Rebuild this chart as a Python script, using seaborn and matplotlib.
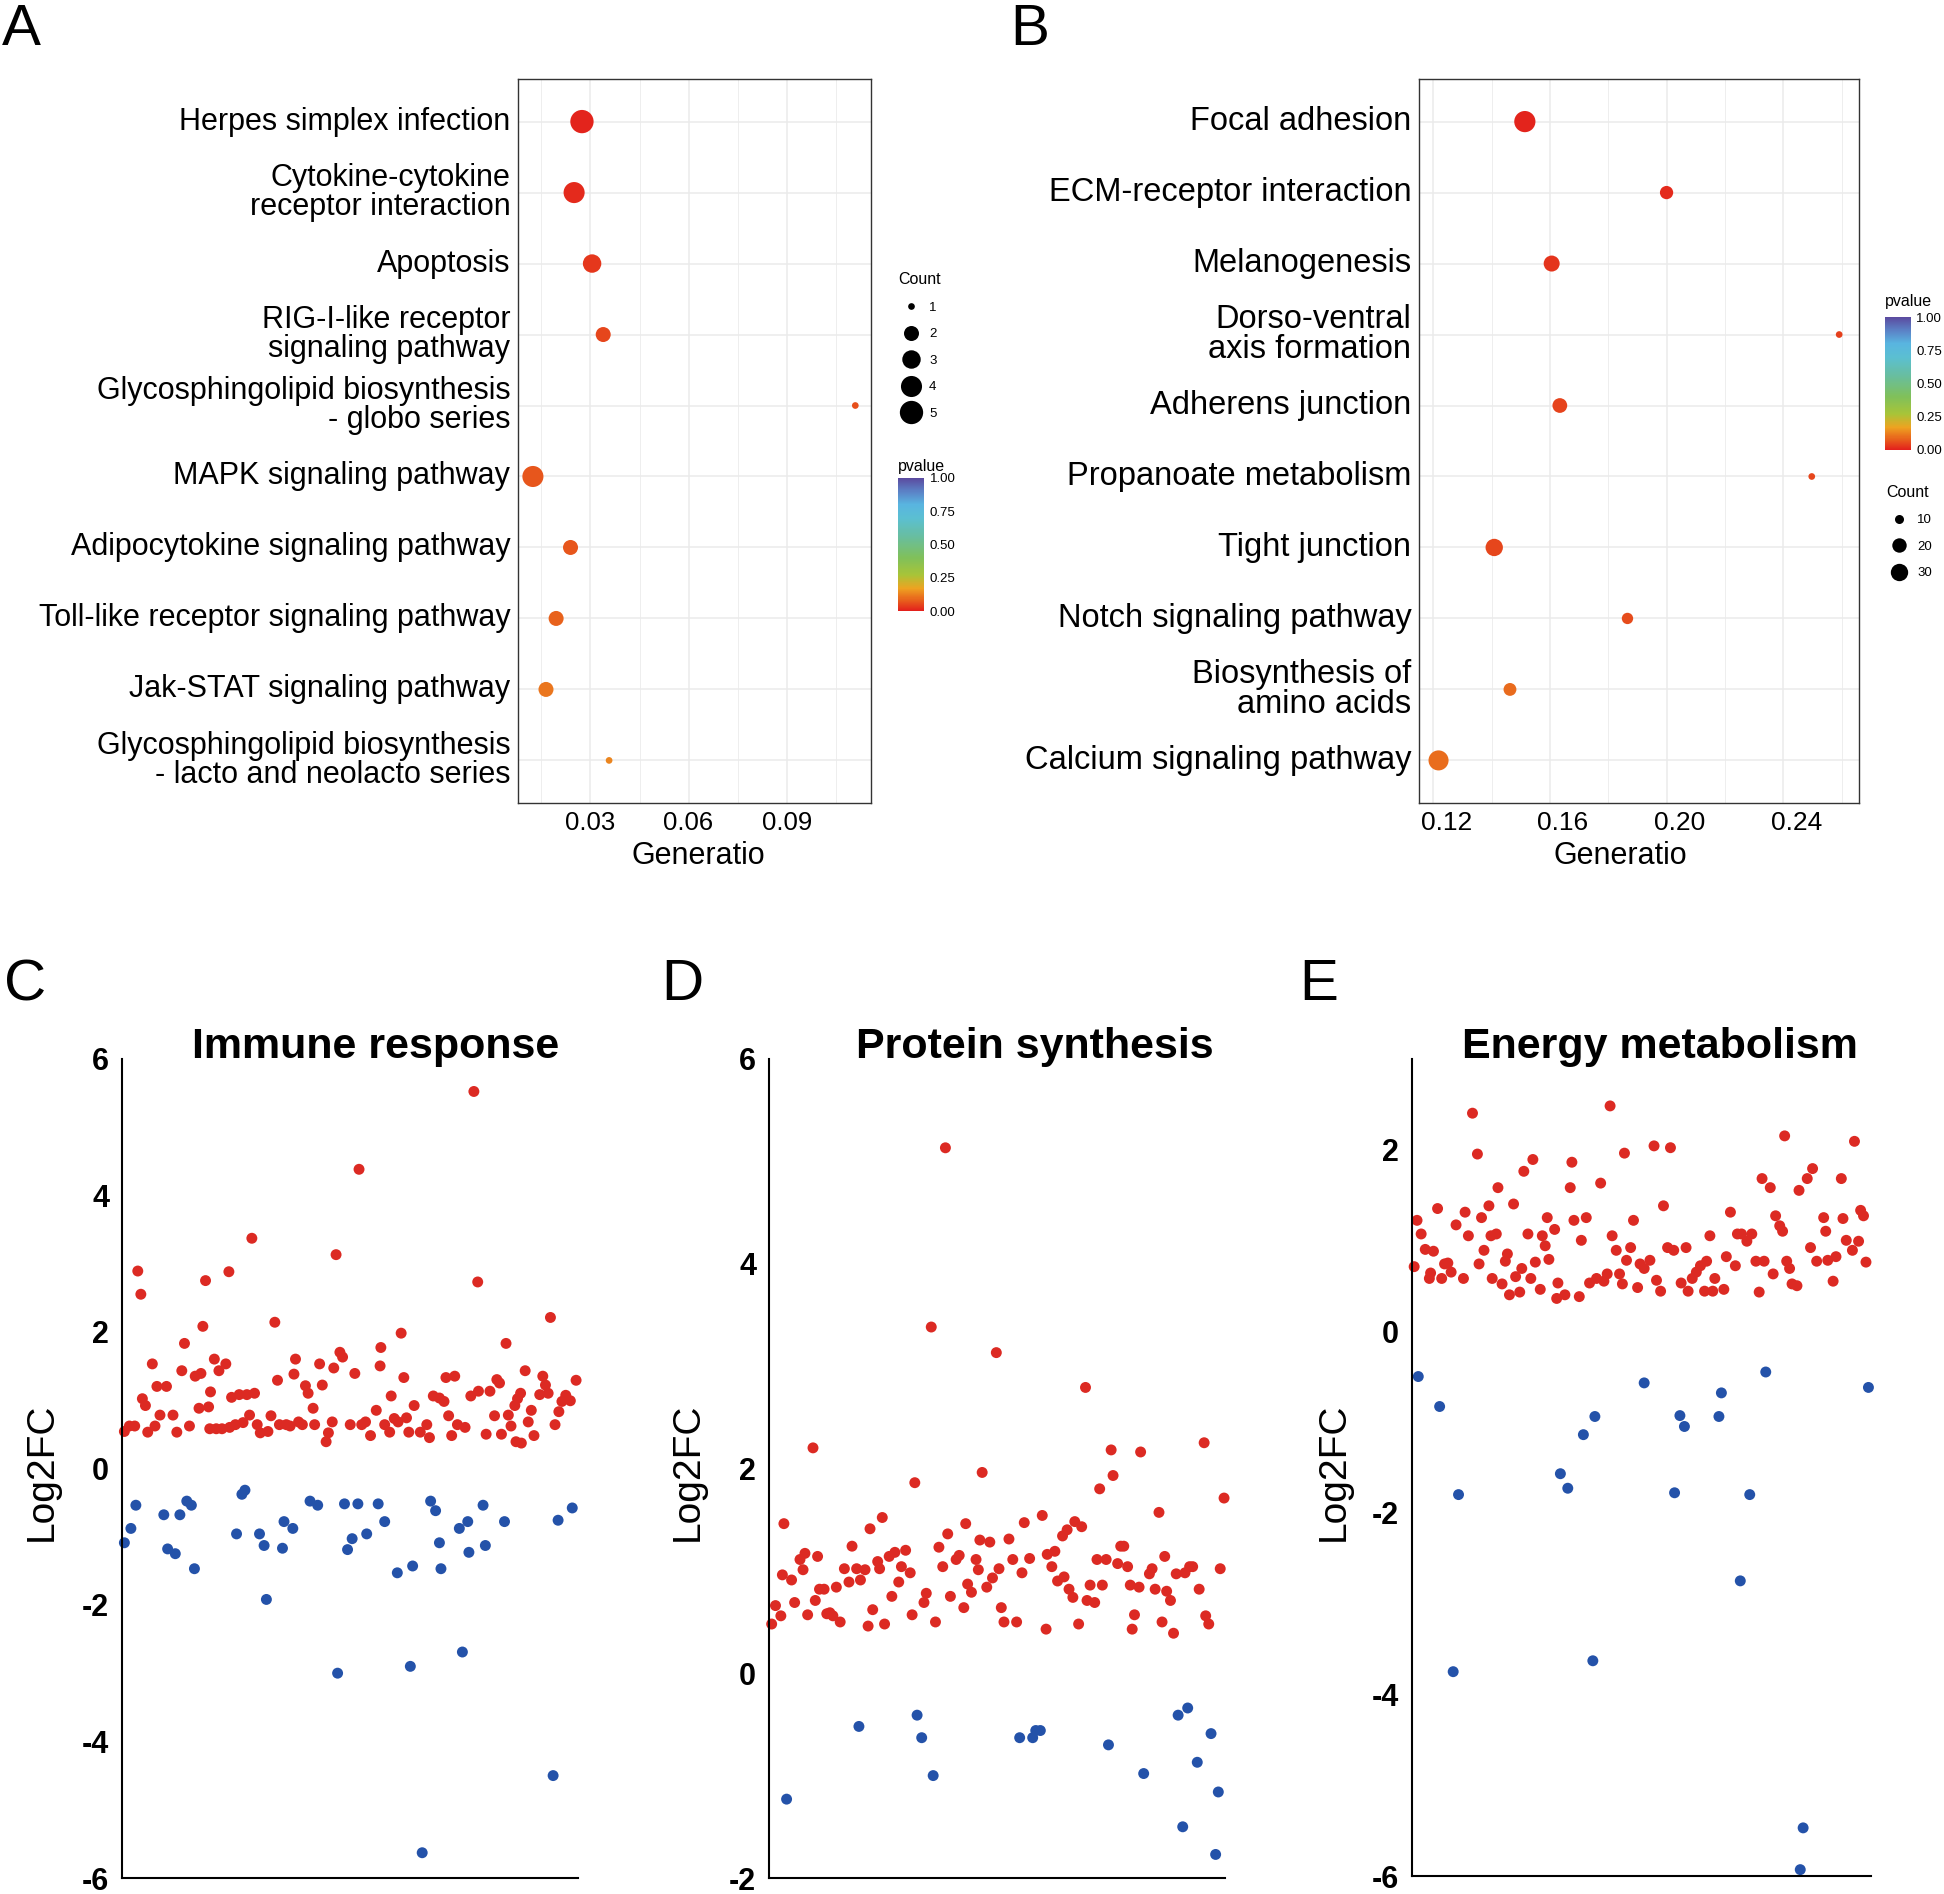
import numpy as np
import pandas as pd
import matplotlib
matplotlib.use("Agg")
import matplotlib.pyplot as plt
import seaborn as sns
from matplotlib.colors import LinearSegmentedColormap, Normalize
from matplotlib.ticker import MultipleLocator, FormatStrFormatter, NullFormatter
from matplotlib.lines import Line2D
from matplotlib.transforms import ScaledTranslation
import matplotlib.cm as cm

# ------------------------------------------------------------------ data
a_pathways = ["Herpes simplex infection",
              "Cytokine-cytokine\nreceptor interaction",
              "Apoptosis",
              "RIG-I-like receptor\nsignaling pathway",
              "Glycosphingolipid biosynthesis\n- globo series",
              "MAPK signaling pathway",
              "Adipocytokine signaling pathway",
              "Toll-like receptor signaling pathway",
              "Jak-STAT signaling pathway",
              "Glycosphingolipid biosynthesis\n- lacto and neolacto series"]
a_generatio = [0.0274, 0.0250, 0.0305, 0.0339, 0.1110, 0.0124, 0.0239, 0.0195, 0.0164, 0.0357]
a_count = [5, 4, 3, 2, 1, 4, 2, 2, 2, 1]
a_pvalue = [0.005, 0.015, 0.03, 0.05, 0.06, 0.07, 0.07, 0.085, 0.11, 0.13]

b_pathways = ["Focal adhesion",
              "ECM-receptor interaction",
              "Melanogenesis",
              "Dorso-ventral\naxis formation",
              "Adherens junction",
              "Propanoate metabolism",
              "Tight junction",
              "Notch signaling pathway",
              "Biosynthesis of\namino acids",
              "Calcium signaling pathway"]
b_generatio = [0.1514, 0.2000, 0.1606, 0.2592, 0.1634, 0.2498, 0.1409, 0.1866, 0.1463, 0.1218]
b_count = [48, 17, 25, 9, 21, 9, 30, 13, 16, 42]
b_pvalue = [0.005, 0.012, 0.025, 0.04, 0.045, 0.05, 0.05, 0.055, 0.095, 0.10]

# C: Immune response
c_up_x = [0.7, 2.0, 3.4, 4.2, 5.0, 5.4, 6.2, 6.8, 8.0, 8.7, 9.2, 10.0, 11.7, 13.4, 14.4, 15.7, 16.4,
          17.7, 19.2, 20.2, 20.7, 21.2, 21.9, 22.7, 23.2, 23.0, 24.2, 24.7, 25.4, 26.2, 27.2, 28.0,
          28.2, 28.7, 29.7, 30.7, 31.7, 32.7, 33.4, 34.0, 34.7, 35.4, 36.2, 38.2, 39.0, 40.0, 40.7,
          41.2, 43.0, 44.0, 45.0, 45.4, 46.2, 47.2, 48.0, 48.7, 50.0, 50.4, 51.7, 52.4, 53.4, 54.0,
          55.0, 55.4, 56.0, 57.0, 57.7, 59.7, 60.9, 62.0, 62.7, 63.7, 65.0, 66.5, 67.7, 67.5, 68.7,
          70.0, 70.4, 71.2, 72.2, 73.0, 73.7, 74.4, 75.0, 76.4, 78.0, 79.7, 80.4, 81.4, 83.0, 84.2,
          84.7, 85.4, 86.2, 87.0, 87.7, 89.7, 91.2, 92.0, 93.0, 93.2, 95.2, 96.2, 97.4, 98.0, 98.7,
          99.2, 100.4, 101.0, 101.7, 102.7, 103.4, 104.2, 103.0, 104.4, 105.4, 106.2, 107.0, 107.7,
          109.2, 110.0, 110.7, 112.0, 111.4, 113.2, 114.2, 115.0, 116.0, 117.2, 118.7]
c_up_y = [0.54, 0.62, 0.62, 2.89, 2.55, 1.02, 0.92, 0.53, 1.53, 0.62, 1.2, 0.78, 1.2, 0.78, 0.53, 1.43,
          1.83, 0.62, 1.35, 0.88, 1.39, 2.08, 2.75, 0.9, 1.12, 0.58, 1.6, 0.58, 1.43, 0.58, 1.53, 2.88,
          0.6, 1.04, 0.64, 1.08, 0.67, 1.08, 0.78, 3.37, 1.1, 0.64, 0.52, 0.54, 0.77, 2.14, 1.29,
          0.64, 0.64, 0.62, 1.38, 1.6, 0.68, 0.64, 1.21, 1.1, 0.88, 0.64, 1.53, 1.22, 0.39, 0.52,
          0.68, 1.47, 3.13, 1.7, 1.63, 0.64, 1.39, 4.38, 0.64, 0.68, 0.48, 0.85, 1.77, 1.5, 0.64,
          0.53, 1.06, 0.73, 0.68, 1.98, 1.33, 0.74, 0.53, 0.92, 0.53, 0.64, 0.45, 1.06, 1.03, 0.98,
          1.33, 0.77, 0.48, 1.35, 0.64, 0.6, 1.06, 5.52, 2.73, 1.13, 0.5, 1.13, 0.77, 1.3, 1.25,
          0.5, 1.83, 0.78, 0.62, 0.92, 1.02, 1.1, 0.39, 0.37, 1.43, 0.68, 0.85, 0.48,
          1.08, 1.35, 1.22, 2.21, 1.1, 0.64, 0.83, 0.98, 1.07, 0.99, 1.29]
c_down_x = [0.7, 2.4, 3.7, 11.0, 12.0, 14.0, 15.2, 17.0, 18.2, 19.0, 30.0, 31.4, 32.2, 36.0, 37.2,
            37.8, 42.0, 42.4, 44.7, 49.2, 51.2, 56.4, 58.2, 59.0, 60.2, 61.7, 64.0, 67.0, 68.7,
            72.0, 75.4, 76.0, 78.5, 80.7, 82.0, 83.0, 83.4, 88.2, 89.0, 90.4, 90.7, 94.4, 95.0,
            100.0, 112.7, 114.0, 117.7]
c_down_y = [-1.09, -0.88, -0.54, -0.68, -1.18, -1.25, -0.68, -0.48, -0.54, -1.47, -0.96, -0.38,
            -0.32, -0.96, -1.13, -1.92, -1.17, -0.78, -0.88, -0.48, -0.54, -3.0, -0.52, -1.19,
            -1.03, -0.52, -0.96, -0.52, -0.78, -1.53, -2.9, -1.43, -5.63, -0.48, -0.62, -1.09,
            -1.47, -0.88, -2.69, -0.78, -1.23, -0.54, -1.13, -0.78, -4.5, -0.76, -0.58]

# D: Protein synthesis
d_up_x = [0.8, 1.8, 3.2, 4.0, 3.6, 6.0, 6.8, 8.2, 9.0, 9.5, 10.2, 11.6, 12.2, 12.8, 13.3, 14.5, 15.2,
          16.0, 16.8, 17.7, 18.7, 19.8, 21.0, 21.8, 23.0, 24.0, 25.2, 26.0, 26.5, 27.2, 28.5, 29.0,
          29.7, 30.3, 31.5, 32.2, 33.0, 34.0, 34.7, 35.8, 37.0, 37.5, 38.2, 40.6, 41.2, 42.5, 43.6,
          44.5, 45.5, 46.2, 46.8, 47.5, 49.0, 49.8, 51.0, 51.5, 52.0, 53.0, 54.2, 54.8, 55.2, 55.8,
          57.0, 57.8, 58.5, 59.5, 60.2, 60.8, 61.5, 62.8, 63.8, 64.8, 66.2, 66.8, 68.2, 71.5, 72.5,
          72.8, 74.0, 74.8, 75.5, 76.8, 77.2, 78.0, 78.5, 79.5, 80.0, 81.0, 81.8, 82.8, 83.2, 84.0,
          85.2, 85.8, 86.5, 87.2, 88.2, 89.5, 90.0, 91.2, 92.0, 92.8, 93.8, 94.5, 95.0, 95.6, 96.8,
          97.2, 99.5, 100.2, 101.0, 102.0, 102.8, 103.5, 104.0, 105.0, 105.8, 106.5, 108.8, 110.0,
          110.8, 112.5, 113.8, 114.2, 115.0, 118.0, 119.0]
d_up_y = [0.48, 0.66, 0.56, 1.46, 0.96, 0.91, 0.69, 1.11, 1.01, 1.17, 0.57, 2.2, 0.71, 1.14, 0.82,
          0.82, 0.58, 0.59, 0.56, 0.84, 0.5, 1.02, 0.89, 1.24, 1.02, 0.91, 1.01, 0.46, 1.41, 0.62,
          1.09, 1.02, 1.52, 0.48, 1.14, 0.75, 1.18, 0.89, 1.04, 1.2, 0.98, 0.57, 1.86, 0.69, 0.78,
          3.38, 0.5, 1.23, 1.04, 5.13, 1.36, 0.75, 1.11, 1.15, 0.64, 1.46, 0.87, 0.79, 1.11, 1.01,
          1.3, 1.96, 0.84, 1.28, 0.93, 3.13, 1.02, 0.64, 0.5, 1.31, 1.11, 0.5, 0.98, 1.47, 1.12,
          1.54, 0.43, 1.16, 1.04, 1.19, 0.9, 1.34, 0.94, 1.4, 0.82, 0.74, 1.48, 0.48, 1.43, 2.79,
          0.71, 0.86, 0.69, 1.11, 1.8, 0.86, 1.11, 2.18, 1.93, 1.07, 1.24, 1.24, 1.04, 0.86, 0.43,
          0.57, 0.84, 2.16, 0.97, 1.02, 0.82, 1.57, 0.5, 1.14, 0.8, 0.71, 0.39, 0.97, 0.98, 1.04,
          1.04, 0.82, 2.25, 0.56, 0.48, 1.02, 1.71]
d_down_x = [4.7, 23.6, 38.8, 40.0, 43.0, 65.6, 69.0, 69.8, 71.0, 88.8, 98.0, 107.0, 108.2, 109.5,
            112.0, 115.6, 116.8, 117.5]
d_down_y = [-1.23, -0.52, -0.41, -0.63, -1.0, -0.63, -0.63, -0.56, -0.56, -0.7, -0.98, -0.41, -1.5,
            -0.34, -0.87, -0.59, -1.77, -1.16]

# E: Energy metabolism
e_up_x = [0.6, 1.3, 2.3, 3.3, 4.3, 4.6, 5.3, 6.3, 7.3, 8.0, 8.8, 9.6, 10.8, 12.6, 13.0, 13.8, 14.8,
          16.0, 16.4, 17.0, 17.6, 18.8, 19.3, 20.6, 21.0, 19.6, 22.0, 22.8, 23.3, 23.8, 24.8, 25.3,
          26.3, 26.8, 27.3, 28.3, 29.0, 29.5, 30.1, 31.3, 31.8, 32.5, 33.0, 33.4, 34.8, 35.3, 35.6,
          37.3, 38.6, 39.0, 39.5, 40.8, 41.3, 42.5, 43.3, 45.0, 46.0, 46.8, 47.6, 48.3, 48.8, 49.8,
          50.6, 51.3, 51.8, 52.3, 53.3, 54.0, 55.0, 55.6, 56.6, 58.0, 59.0, 59.6, 60.6, 61.3, 62.3,
          63.0, 63.8, 65.6, 66.8, 67.3, 68.3, 69.3, 70.3, 71.3, 71.8, 72.6, 73.3, 73.8, 76.0, 76.6,
          77.6, 78.8, 79.3, 80.3, 81.6, 82.8, 83.8, 84.6, 85.3, 85.8, 87.3, 88.0, 88.6, 89.6, 90.3,
          90.8, 91.3, 92.0, 92.6, 93.8, 94.3, 96.3, 97.1, 97.6, 98.6, 100.3, 100.8, 101.3, 102.6,
          103.3, 104.6, 105.0, 105.8, 107.3, 107.8, 108.8, 109.3, 110.0, 110.6]
e_up_y = [0.71, 1.22, 1.07, 0.9, 0.58, 0.64, 0.88, 1.35, 0.58, 0.74, 0.75, 0.65, 1.17, 0.58, 1.31,
          1.05, 2.4, 1.95, 0.74, 1.25, 0.89, 1.38, 1.05, 1.07, 1.58, 0.58, 0.52, 0.77, 0.85, 0.4,
          1.4, 0.6, 0.43, 0.69, 1.76, 1.07, 0.58, 1.89, 0.76, 0.46, 1.05, 0.94, 1.25, 0.79, 1.12,
          0.36, 0.53, 0.4, 1.58, 1.86, 1.22, 0.38, 1.0, 1.25, 0.53, 0.58, 1.63, 0.55, 0.63, 2.48,
          1.05, 0.89, 0.63, 0.52, 1.96, 0.78, 0.92, 1.22, 0.48, 0.74, 0.69, 0.78, 2.04, 0.56, 0.44,
          1.38, 0.92, 2.02, 0.89, 0.53, 0.92, 0.44, 0.58, 0.65, 0.72, 0.44, 0.77, 1.05, 0.44, 0.58,
          0.46, 0.82, 1.31, 0.72, 1.07, 1.07, 0.99, 1.07, 0.77, 0.43, 1.68, 0.77, 1.58, 0.63, 1.27,
          1.16, 1.1, 2.15, 0.77, 0.69, 0.52, 0.5, 1.55, 1.68, 0.92, 1.79, 0.77, 1.25, 1.1, 0.78,
          0.55, 0.82, 1.68, 1.24, 1.0, 0.89, 2.09, 0.99, 1.33, 1.27, 0.76]
e_down_x = [1.6, 6.8, 11.4, 10.1, 36.2, 38.0, 41.8, 44.6, 44.1, 56.6, 64.0, 65.3, 66.4, 74.8, 75.4,
            80.0, 82.3, 86.2, 95.3, 94.6, 111.2]
e_down_y = [-0.5, -0.83, -1.8, -3.75, -1.57, -1.73, -1.14, -0.94, -3.63, -0.57, -1.78, -0.93,
            -1.05, -0.94, -0.68, -2.75, -1.8, -0.45, -5.47, -5.93, -0.62]

# ------------------------------------------------------------------ style
W, H, DPI = 1944, 1894, 100
RED, BLUE = "#dc2a23", "#2452a9"

sns.set_theme(style="white")
plt.rcParams["font.family"] = ["Liberation Sans", "DejaVu Sans"]
plt.rcParams["axes.unicode_minus"] = False
for key in ("text.color", "axes.labelcolor", "xtick.color", "ytick.color"):
    plt.rcParams[key] = "black"

cmap = LinearSegmentedColormap.from_list("pv", [
    (0.00, "#e3211c"), (0.08, "#e8601c"), (0.17, "#eea321"), (0.27, "#a8c438"),
    (0.40, "#80c05a"), (0.55, "#69be9c"), (0.70, "#5bbfd2"), (0.80, "#59b5e0"),
    (0.90, "#5b82c6"), (1.00, "#5b4ba0")])


def rect(l, t, r, b):
    return [l / W, 1 - b / H, (r - l) / W, (b - t) / H]


def fx(x):
    return x / W


def fy(y):
    return 1 - y / H


def gg_diam_px(c, lo, hi, dmin=6.7, dmax=23.3):
    t = max((c - lo) / (hi - lo), 0.0)
    return dmin + (dmax - dmin) * np.sqrt(t)


def px2pt(p):
    return p * 72.0 / DPI


fig = plt.figure(figsize=(W / DPI, H / DPI), dpi=DPI)


def dot_panel(box, pathways, ratio, count, pval, lo, hi, xlim, major, minor, label_fs,
              tick_fs, xlabel_x, tick_shift_px):
    ax = fig.add_axes(rect(*box))
    df = pd.DataFrame({"Pathway": pathways, "GeneRatio": ratio, "Count": count, "pvalue": pval})
    sizes = {c: px2pt(gg_diam_px(c, lo, hi)) ** 2 for c in sorted(set(count))}
    sns.scatterplot(data=df, x="GeneRatio", y="Pathway", size="Count", sizes=sizes,
                    hue="pvalue", palette=cmap, hue_norm=(0, 1), linewidth=0,
                    legend=False, ax=ax, zorder=3)
    ax.set_yticks(range(len(pathways)))
    ax.set_yticklabels(pathways, fontsize=label_fs, color="black")
    for t in ax.get_yticklabels():
        t.set_linespacing(0.95)
        t.set_verticalalignment("center")
    ax.set_ylim(len(pathways) - 0.4, -0.6)
    ax.set_xlim(*xlim)
    ax.xaxis.set_major_locator(MultipleLocator(major))
    ax.xaxis.set_minor_locator(MultipleLocator(minor))
    ax.xaxis.set_major_formatter(FormatStrFormatter("%.2f"))
    ax.set_axisbelow(True)
    ax.grid(True, which="major", color="#ebebeb", lw=1.1)
    ax.grid(True, which="minor", axis="x", color="#ebebeb", lw=0.6)
    ax.tick_params(which="major", length=3.5, width=0.8, color="#333333", pad=2,
                   labelcolor="black")
    ax.tick_params(axis="x", labelsize=tick_fs)
    ax.tick_params(which="minor", length=0)
    if tick_shift_px:
        off = ScaledTranslation(tick_shift_px / DPI, 0, fig.dpi_scale_trans)
        for t in ax.get_xticklabels():
            t.set_transform(t.get_transform() + off)
    for s in ax.spines.values():
        s.set_visible(True)
        s.set_color("#333333")
        s.set_linewidth(1.0)
    ax.set_ylabel("")
    ax.set_xlabel("Generatio", fontsize=22, color="black")
    ax.xaxis.set_label_coords(xlabel_x, -0.052)
    return ax


axA = dot_panel((518, 79, 871, 803), a_pathways, a_generatio, a_count, a_pvalue, 1, 5,
                (0.00784, 0.1158), 0.03, 0.015, 22, 18.5, 0.51, 0)
axB = dot_panel((1419, 79, 1859, 803), b_pathways, b_generatio, b_count, b_pvalue, 9, 60,
                (0.1151, 0.266), 0.04, 0.02, 23.5, 19, 0.457, 13)


def count_legend(levels, lo, hi, title_left, title_top, spacing):
    handles = [Line2D([], [], marker="o", ls="", color="black", markeredgewidth=0,
                      markersize=px2pt(gg_diam_px(c, lo, hi))) for c in levels]
    leg = fig.legend(handles, [str(c) for c in levels], title="Count", loc="upper left",
                     bbox_to_anchor=(fx(title_left), fy(title_top)), frameon=False,
                     fontsize=9.5, title_fontsize=11.5, handlelength=1.9,
                     handletextpad=0.45, labelspacing=spacing, borderpad=0,
                     borderaxespad=0, alignment="left")
    leg.get_title().set_color("black")
    for t in leg.get_texts():
        t.set_color("black")
    return leg


def pv_colorbar(l, t, r, b, title_baseline):
    cax = fig.add_axes(rect(l, t, r, b))
    cb = fig.colorbar(cm.ScalarMappable(norm=Normalize(0, 1), cmap=cmap), cax=cax,
                      ticks=[0, 0.25, 0.5, 0.75, 1.0])
    cb.outline.set_visible(False)
    cax.yaxis.set_major_formatter(FormatStrFormatter("%.2f"))
    cax.tick_params(direction="in", color="white", length=5, width=1.0, labelsize=9.5,
                    pad=4, left=True, right=True, labelleft=False, labelright=True,
                    labelcolor="black")
    fig.text(fx(l), fy(title_baseline), "pvalue", fontsize=11.5, ha="left", va="baseline")


count_legend([1, 2, 3, 4, 5], 1, 5, 898, 272, 1.09)
pv_colorbar(898.3, 478, 924, 611, 471)
pv_colorbar(1885, 317, 1910.7, 450, 306)
count_legend([10, 20, 30], 9, 60, 1886, 485, 1.08)


def volcano(box, up_x, up_y, down_x, down_y, xmax, ylim, minor, title, title_x, ylab_x):
    ax = fig.add_axes(rect(*box))
    df = pd.DataFrame({"x": up_x + down_x, "y": up_y + down_y,
                       "reg": ["up"] * len(up_x) + ["down"] * len(down_x)})
    sns.scatterplot(data=df, x="x", y="y", hue="reg", palette={"up": RED, "down": BLUE},
                    s=62, linewidth=0, legend=False, ax=ax, clip_on=False)
    ax.set_xlim(0, xmax)
    ax.set_ylim(*ylim)
    ax.set_xticks([xmax / 2, xmax])
    ax.xaxis.set_major_formatter(NullFormatter())
    ax.yaxis.set_major_locator(MultipleLocator(2))
    if minor:
        ax.yaxis.set_minor_locator(MultipleLocator(1))
    for side in ("top", "right"):
        ax.spines[side].set_visible(False)
    for side in ("left", "bottom"):
        ax.spines[side].set_visible(True)
        ax.spines[side].set_color("black")
        ax.spines[side].set_linewidth(1.5)
    ax.tick_params(which="both", direction="in", length=6, width=1.5, color="black")
    ax.tick_params(axis="y", which="major", labelsize=22, pad=9, labelcolor="black")
    for t in ax.get_yticklabels():
        t.set_fontweight("bold")
    ax.tick_params(axis="x", which="minor", length=0)
    ax.set_xlabel("")
    ax.set_ylabel("")
    fig.text(fx(title_x), fy(1058), title, fontsize=31, fontweight="bold",
             ha="center", va="baseline", color="black")
    fig.text(fx(ylab_x), fy(1472), "Log2FC", fontsize=28, rotation=90,
             ha="center", va="center", color="black")
    return ax


volcano((121.7, 1058.7, 578, 1878), c_up_x, c_up_y, c_down_x, c_down_y, 119.2, (-6, 6),
        False, "Immune response", 376, 42)
volcano((768.6, 1058.7, 1225.2, 1878), d_up_x, d_up_y, d_down_x, d_down_y, 119.3, (-2, 6),
        True, "Protein synthesis", 1035, 688)
volcano((1411.7, 1058.7, 1870.9, 1876), e_up_x, e_up_y, e_down_x, e_down_y, 111.8, (-6, 3),
        True, "Energy metabolism", 1660, 1334)

for letter, x, y in [("A", 2, 44.6), ("B", 1010, 44.6), ("C", 4, 1000), ("D", 661, 1000),
                     ("E", 1299, 1000)]:
    fig.text(fx(x), fy(y), letter, fontsize=42, ha="left", va="baseline", color="black")

fig.savefig("out.png", dpi=DPI)
